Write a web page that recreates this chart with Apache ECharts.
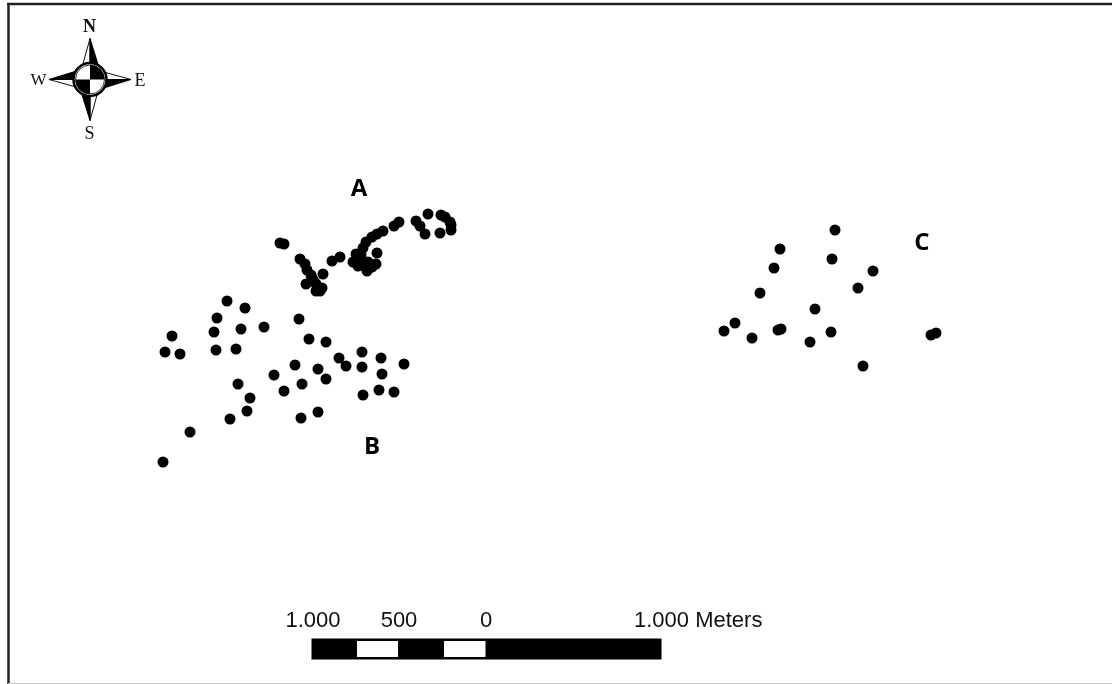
<!DOCTYPE html>
<html>
<head>
<meta charset="utf-8">
<style>html,body{margin:0;padding:0;background:#fff}#c{width:1112px;height:684px}</style>
<script src="https://cdn.jsdelivr.net/npm/echarts@6/dist/echarts.min.js"></script>
</head>
<body>
<div id="c"></div>
<script>
const siteA = [[280,243],[284,244],[300,259],[305,264],[307,270],[311,275],[323,274],[306,284],[314,281],
[316,284],[312,278],[316,291],[320,291],[322,288],[318,289],[332,261],[340,257],[356,254],[361,255],
[363,248],[366,242],[372,237],[377,234],[383,231],[394,226],[399,222],[377,253],[353,262],[358,262],
[362,265],[367,271],[372,267],[376,264],[368,262],[358,266],[416,221],[420,226],[425,234],[428,214],
[440,233],[441,215],[445,217],[450,222],[451,225],[451,230]];
const siteB = [[227,301],[245,308],[217,318],[214,332],[241,329],[264,327],[299,319],[172,336],[165,352],
[180,354],[216,350],[236,349],[309,339],[326,342],[339,358],[346,366],[362,352],[362,367],[381,358],
[382,374],[404,364],[295,365],[318,369],[326,379],[274,375],[302,384],[284,391],[238,384],[250,398],
[247,411],[230,419],[301,418],[318,412],[363,395],[379,390],[394,392],[190,432],[163,462]];
const siteC = [[835,230],[780,249],[832,259],[774,268],[873,271],[858,288],[760,293],[815,309],[735,323],
[724,331],[752,338],[778,330],[781,329],[831,332],[810,342],[863,366],[931,335],[936,333]];
const siteLabels = [['A',359,189],['B',372,447],['C',922,243]];
const compassLetters = [['N',89.5,27,'bold 18px'],['W',38.5,81,'17px'],['E',140,81,'18px'],['S',89.5,134,'18px']];
const scaleTicks = [['1.000',313,'center'],['500',399,'center'],['0',486,'center'],['1.000 Meters',634,'left']];
// Scale bar: [start, end]
const scaleBlack = [[311.5,661.5]];
const scaleWhite = [[357,398],[444,485.5]];

const chart = echarts.init(document.getElementById('c'), null, {renderer:'canvas'});

const cx = 90, cy = 79.5;
function arm(rot){
  // one compass arm, pointing north before rotation
  return [
    {type:'polygon', x:cx, y:cy, rotation:rot, z:10,
      shape:{points:[[0,-41],[-8,-12],[0,-12]]},
      style:{fill:'#fff', stroke:'#111', lineWidth:1}},
    {type:'polygon', x:cx, y:cy, rotation:rot, z:10,
      shape:{points:[[0,-41],[9,-12],[0,-12]]},
      style:{fill:'#000', stroke:'#000', lineWidth:1}}
  ];
}
const compass = [
  ...arm(0), ...arm(-Math.PI/2), ...arm(Math.PI), ...arm(Math.PI/2),
  {type:'circle', z:11, shape:{cx:cx,cy:cy,r:16.5}, style:{fill:'#fff',stroke:'#000',lineWidth:2.5}},
  {type:'circle', z:12, shape:{cx:cx,cy:cy,r:14.5}, style:{fill:'#fff',stroke:'#000',lineWidth:0.8}},
  {type:'sector', z:13, shape:{cx:cx,cy:cy,r:14.5,r0:0,startAngle:-Math.PI/2,endAngle:0}, style:{fill:'#000'}},
  {type:'sector', z:13, shape:{cx:cx,cy:cy,r:14.5,r0:0,startAngle:Math.PI/2,endAngle:Math.PI}, style:{fill:'#000'}}
];
const letters = compassLetters.map(([t,x,y,f]) => ({
  type:'text', x, y, z:14,
  style:{text:t, fill:'#111', font:f+' "Liberation Serif"', align:'center', verticalAlign:'middle'}
}));
const labels = siteLabels.map(([t,x,y]) => ({
  type:'text', x, y, z:14,
  style:{text:t, fill:'#000', font:'bold 24px "Open Sans"', align:'center', verticalAlign:'middle'}
}));
const ticks = scaleTicks.map(([t,x,a]) => ({
  type:'text', x, y:621, z:14,
  style:{text:t, fill:'#111', font:'22px "Liberation Sans"', align:a, verticalAlign:'middle'}
}));
const frame = [
  {type:'line', z:20, shape:{x1:7,y1:4,x2:1112,y2:4}, style:{stroke:'#222',lineWidth:2.5}},
  {type:'line', z:20, shape:{x1:8.5,y1:3,x2:8.5,y2:684}, style:{stroke:'#222',lineWidth:2.5}},
  {type:'line', z:20, shape:{x1:8,y1:683.5,x2:1112,y2:683.5}, style:{stroke:'#c8c8c8',lineWidth:1}}
];

const dots = (name,data) => ({
  name, type:'scatter', data, symbol:'circle', symbolSize:11,
  itemStyle:{color:'#000',opacity:1}, silent:true, animation:false
});
const band = (name,data,fill,y0,y1) => ({
  name, type:'custom', data, silent:true, animation:false,
  renderItem(p,api){
    const a = api.coord([api.value(0),y0]), b = api.coord([api.value(1),y1]);
    return {type:'rect', shape:{x:a[0],y:a[1],width:b[0]-a[0],height:b[1]-a[1]}, style:{fill}};
  },
  encode:{x:[0,1]}
});

chart.setOption({
  animation:false,
  backgroundColor:'#fff',
  grid:{left:0,right:0,top:0,bottom:0},
  xAxis:{type:'value',min:0,max:1112,show:false},
  yAxis:{type:'value',min:0,max:684,inverse:true,show:false},
  series:[
    dots('A',siteA), dots('B',siteB), dots('C',siteC),
    band('Scale black',scaleBlack,'#000',638.5,659.5),
    Object.assign(band('Scale white',scaleWhite,'#fff',641,657),{z:3})
  ],
  graphic:[...frame,...compass,...letters,...labels,...ticks]
});
</script>
</body>
</html>
